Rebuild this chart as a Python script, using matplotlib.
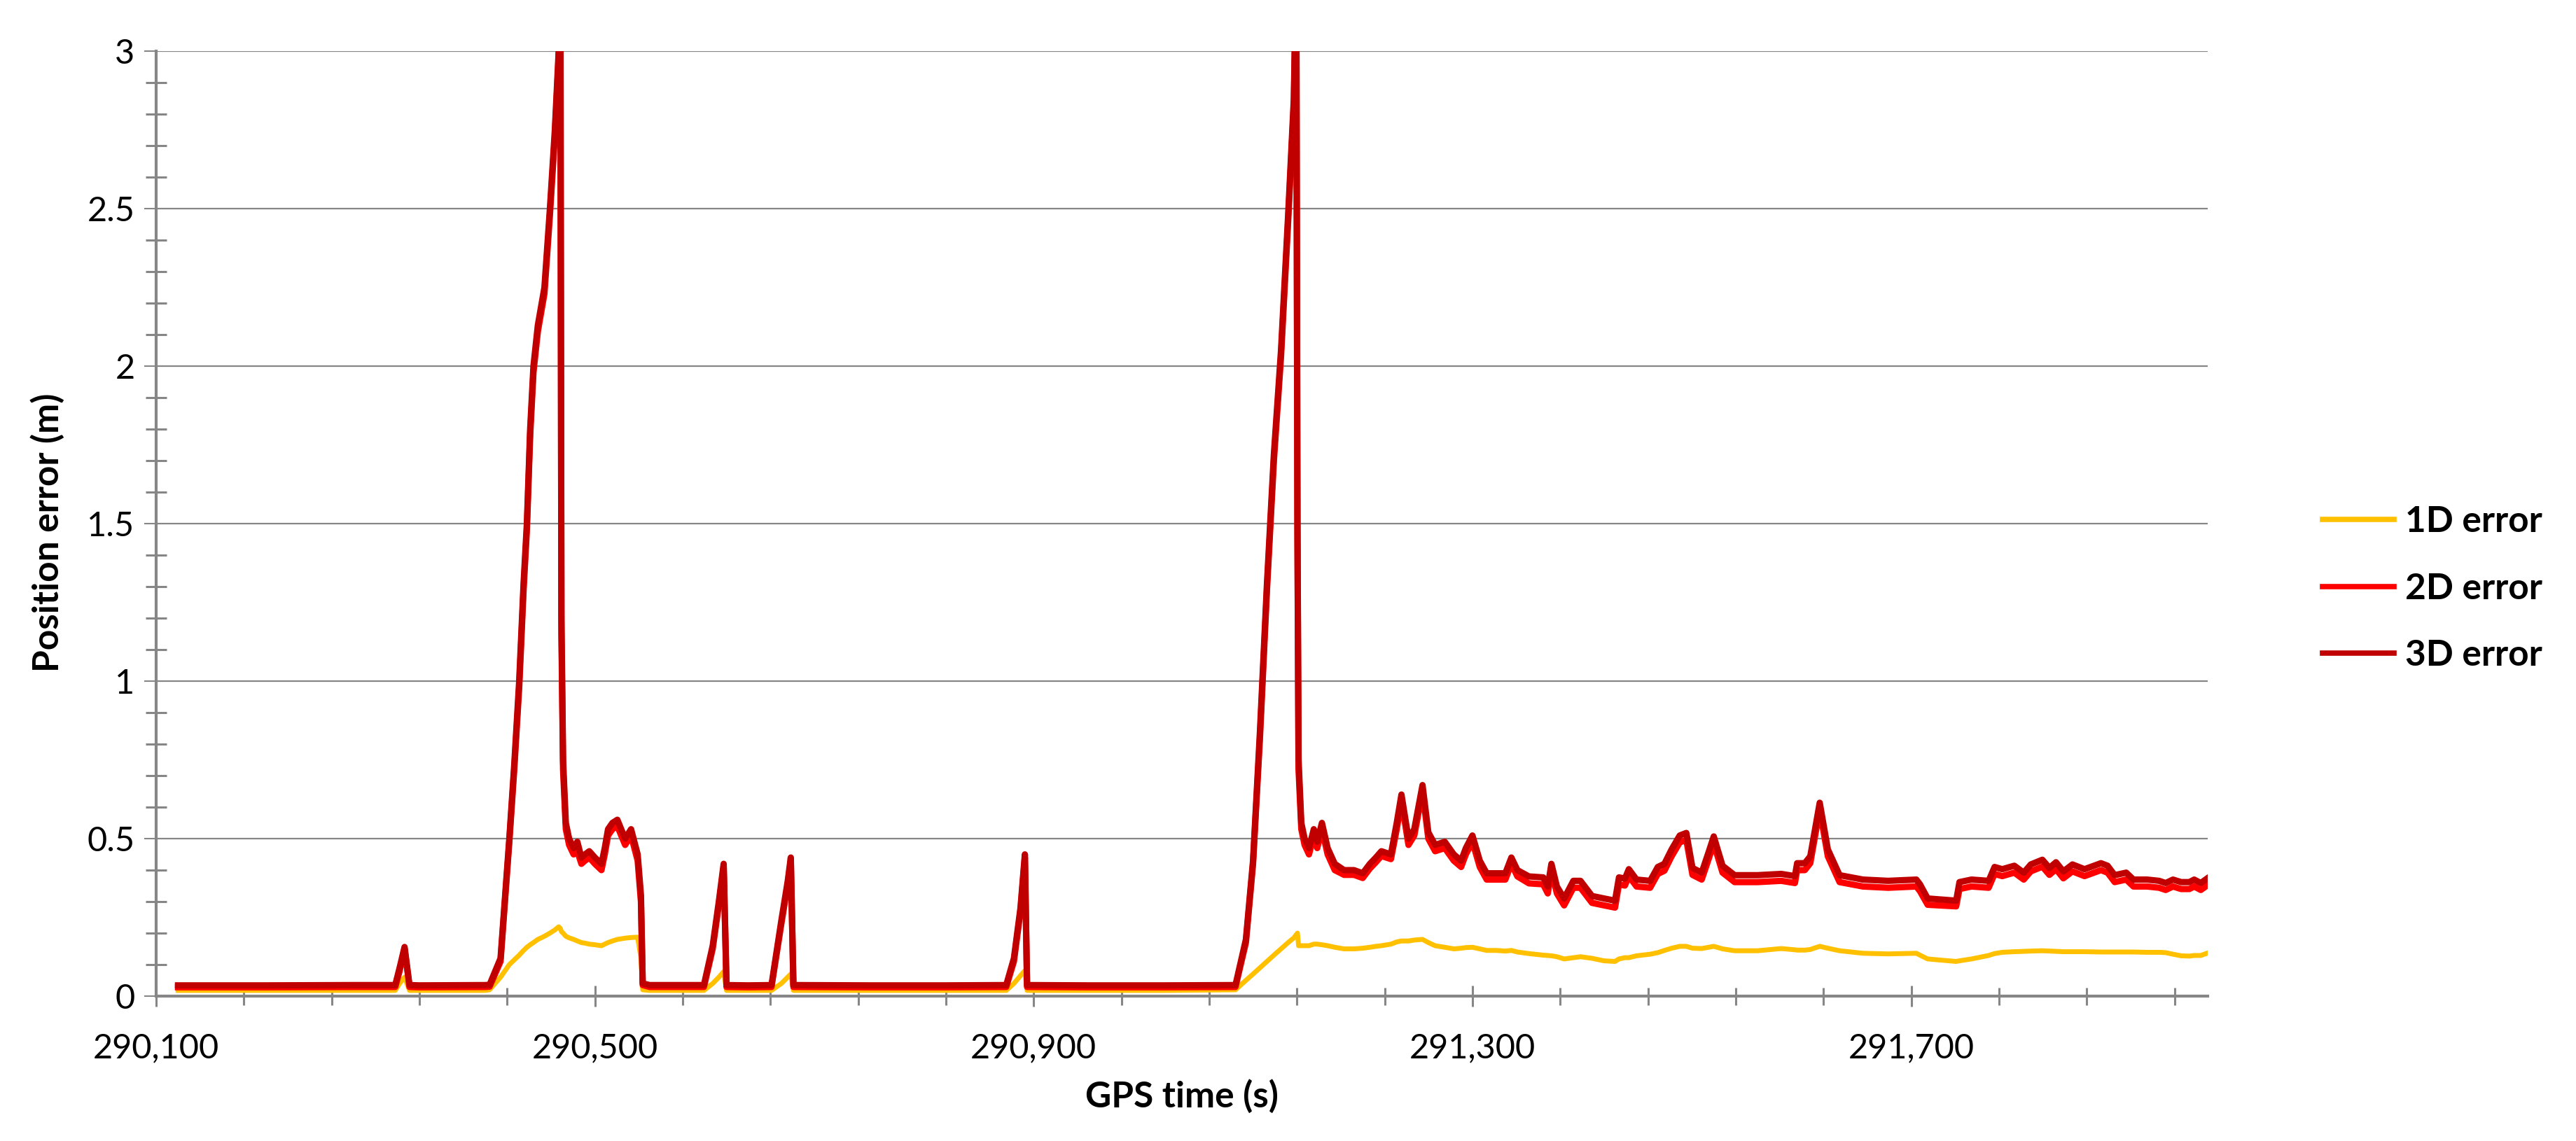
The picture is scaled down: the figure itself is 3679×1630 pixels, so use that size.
import matplotlib
matplotlib.use("Agg")
import matplotlib.pyplot as plt
from matplotlib.ticker import MultipleLocator, FixedLocator

plt.rcParams['font.family'] = ['Lato', 'DejaVu Sans']

# GPS time (s)
gps_time = [
    290120, 290200, 290280, 290318, 290322, 290326.5, 290331, 290340, 290400, 290404,
    290414, 290422, 290426.5, 290431, 290435, 290438, 290441, 290444, 290448, 290454,
    290459, 290463.5, 290467, 290468.5, 290469.5, 290471, 290473.5, 290476.5,
    290480.6, 290484, 290487.7, 290491, 290494.9, 290500, 290506, 290509, 290512, 290516,
    290520.5, 290524, 290527.6, 290533, 290539, 290542, 290543.6,
    290550, 290599.4, 290607.4, 290613, 290617.4, 290620, 290640, 290661, 290670, 290675.8,
    290678.6, 290681,
    290750, 290820, 290875, 290882, 290888, 290892, 290894, 290950, 291020, 291084,
    291093.5, 291100, 291106.3, 291112.7, 291119, 291125.5, 291132, 291137.2, 291139.4,
    291140.5, 291141.5, 291144, 291147,
    291151, 291155.4, 291158.5, 291162.8, 291168, 291174.5, 291183, 291192, 291200, 291206.5,
    291212, 291217, 291225.7, 291231, 291235.3, 291241.7, 291247, 291254.5, 291259.8, 291266,
    291274.8, 291283, 291289.7, 291294, 291300, 291306.7, 291313, 291322, 291330, 291335.5,
    291341,
    291351.5, 291364.5, 291368.7, 291372, 291377, 291383.6, 291392, 291398.5, 291409, 291420,
    291430, 291433.6, 291439, 291442.6, 291449.6, 291462, 291469, 291475, 291481.6, 291489,
    291495, 291500.6, 291509, 291515.5, 291520, 291528, 291539, 291560, 291581.5, 291594,
    291596, 291603, 291608, 291616.6, 291624, 291634.7, 291656, 291679,
    291704.7, 291708, 291715, 291741, 291744, 291755, 291770.6, 291776, 291783, 291794,
    291802.6, 291809, 291819.6, 291826, 291832, 291838.7, 291847, 291858, 291873, 291879,
    291885.5, 291896, 291902.6, 291915, 291926, 291932, 291938.7, 291946, 291953.6, 291958,
    291964, 291969.6,
]

err_1d = [
    .018, .018, .018, .018, .04, .06, .018, .018, .018, .02,
    .06, .1, .115, .13, .145, .155, .163, .17, .18, .19,
    .2, .21, .22, .215, .205, .2, .19, .185,
    .18, .175, .17, .168, .165, .163, .16, .165, .17, .175,
    .18, .182, .184, .186, .187, .12, .02,
    .018, .018, .04, .06, .078, .018, .018, .018, .04, .06,
    .07, .018,
    .018, .018, .018, .04, .065, .081, .018, .018, .018, .02,
    .05, .07, .09, .11, .13, .15, .17, .185, .195,
    .2, .16, .16, .16,
    .16, .165, .165, .163, .16, .155, .15, .15, .152, .155,
    .158, .16, .165, .172, .175, .175, .178, .18, .17, .16,
    .155, .15, .152, .154, .155, .15, .145, .145, .143, .145,
    .14,
    .135, .13, .129, .128, .125, .118, .122, .125, .12, .112,
    .11, .118, .122, .122, .128, .133, .138, .145, .152, .158,
    .158, .152, .151, .155, .158, .15, .144, .144, .151, .147,
    .146, .146, .148, .158, .152, .144, .136, .134,
    .136, .13, .118, .11, .112, .118, .129, .135, .139, .141,
    .142, .143, .144, .143, .142, .141, .141, .141, .14, .14,
    .14, .14, .14, .139, .139, .138, .133, .128, .127, .129,
    .129, .136,
]

err_2d = [
    .028, .028, .029, .029, .08, .15, .029, .028, .029, .030,
    .11, .49, .72, .98, 1.29, 1.48, 1.78, 1.98, 2.11, 2.23,
    2.48, 2.73, 2.98, 3.25, 1.15, .72, .53, .48,
    .45, .46, .42, .43, .44, .42, .40, .45, .51, .53,
    .54, .51, .48, .51, .43, .30, .035,
    .029, .029, .15, .29, .41, .029, .028, .029, .23, .355,
    .43, .029,
    .028, .028, .029, .11, .27, .44, .029, .028, .028, .029,
    .17, .42, .82, 1.29, 1.70, 2.03, 2.46, 2.83, 3.25,
    1.45, .72, .53, .48,
    .45, .51, .47, .53, .45, .40, .385, .385, .375, .405,
    .425, .445, .435, .53, .62, .48, .51, .65, .50, .46,
    .47, .43, .41, .45, .49, .41, .37, .37, .37, .42,
    .38,
    .358, .355, .326, .398, .326, .288, .344, .344, .296, .288,
    .281, .355, .351, .381, .348, .344, .388, .398, .444, .488,
    .496, .385, .370, .437, .485, .392, .362, .362, .366, .359,
    .400, .400, .422, .592, .444, .362, .348, .344,
    .348, .333, .29, .285, .34, .348, .344, .388, .381, .392,
    .37, .396, .411, .385, .403, .374, .396, .381, .4, .392,
    .362, .37, .348, .348, .344, .337, .348, .34, .34, .348,
    .337, .351,
]

err_3d = [
    .034, .034, .035, .035, .09, .156, .035, .034, .035, .036,
    .12, .5, .735, 1.0, 1.31, 1.5, 1.8, 2.0, 2.13, 2.25,
    2.5, 2.75, 3.0, 3.3, 1.2, .75, .55, .5,
    .47, .49, .44, .45, .46, .44, .42, .47, .53, .55,
    .56, .53, .5, .53, .45, .32, .04,
    .035, .035, .16, .30, .42, .035, .034, .035, .24, .365,
    .44, .035,
    .034, .034, .035, .12, .28, .45, .035, .034, .034, .035,
    .18, .43, .84, 1.31, 1.72, 2.05, 2.48, 2.85, 3.3,
    1.5, .75, .55, .5,
    .47, .53, .49, .55, .47, .42, .40, .40, .39, .42,
    .44, .46, .45, .55, .64, .50, .53, .67, .52, .48,
    .49, .45, .43, .47, .51, .43, .39, .39, .39, .44,
    .40,
    .38, .377, .348, .42, .348, .31, .366, .366, .318, .31,
    .303, .377, .373, .403, .37, .366, .41, .42, .466, .51,
    .518, .407, .392, .459, .507, .414, .384, .384, .388, .381,
    .422, .422, .444, .614, .466, .384, .37, .366,
    .37, .355, .31, .303, .362, .37, .366, .41, .403, .414,
    .392, .418, .433, .407, .425, .396, .418, .403, .422, .414,
    .384, .392, .37, .37, .366, .359, .37, .362, .362, .37,
    .359, .373,
]

x_ticks = [290100, 290500, 290900, 291300, 291700]
x_tick_labels = ['290,100', '290,500', '290,900', '291,300', '291,700']
y_ticks = [0, 0.5, 1, 1.5, 2, 2.5, 3]
y_tick_labels = ['0', '0.5', '1', '1.5', '2', '2.5', '3']

grey = '#868686'

fig = plt.figure(figsize=(36.79, 16.30), dpi=100)
ax = fig.add_axes([0.0606, 0.127, 0.7963, 0.828])

ax.plot(gps_time, err_1d, color='#FFC000', lw=5, label='1D error', solid_joinstyle='round')
ax.plot(gps_time, err_2d, color='#FF0000', lw=6.5, label='2D error', solid_joinstyle='round')
ax.plot(gps_time, err_3d, color='#C00000', lw=6.5, label='3D error', solid_joinstyle='round')

ax.set_xlim(290100, 291970)
ax.set_ylim(0, 3)

ax.xaxis.set_major_locator(FixedLocator(x_ticks))
ax.set_xticklabels(x_tick_labels)
ax.xaxis.set_minor_locator(MultipleLocator(80, offset=20))
ax.yaxis.set_major_locator(FixedLocator(y_ticks))
ax.set_yticklabels(y_tick_labels)
ax.yaxis.set_minor_locator(MultipleLocator(0.1))

ax.tick_params(axis='x', which='major', direction='inout', length=22, width=2.2,
               color=grey, labelsize=35, pad=27)
ax.tick_params(axis='x', which='minor', direction='inout', length=18, width=2.2, color=grey)
ax.tick_params(axis='y', which='major', direction='out', length=12, width=1.5,
               color=grey, labelsize=35, pad=10)
ax.tick_params(axis='y', which='minor', direction='inout', length=21, width=2.2, color=grey)

ax.grid(axis='y', which='major', color=grey, lw=1.6)
ax.set_axisbelow(True)
for side in ['top', 'right']:
    ax.spines[side].set_visible(False)
for side in ['left', 'bottom']:
    ax.spines[side].set_color(grey)
    ax.spines[side].set_linewidth(3)

fig.text(0.0185, 0.533, 'Position error (m)', rotation=90, ha='center', va='center',
         fontsize=37, fontweight='bold')
fig.text(0.4588, 0.039, 'GPS time (s)', ha='center', va='center',
         fontsize=37, fontweight='bold')

leg = fig.legend(loc='center left', bbox_to_anchor=(0.9015, 0.484), frameon=False,
                 fontsize=37, handlelength=2.0, handletextpad=0.3, labelspacing=0.95,
                 borderpad=0, borderaxespad=0)
for t in leg.get_texts():
    t.set_fontweight('bold')
for h in leg.get_lines():
    h.set_linewidth(5.5)

fig.savefig('out.png', dpi=100)
